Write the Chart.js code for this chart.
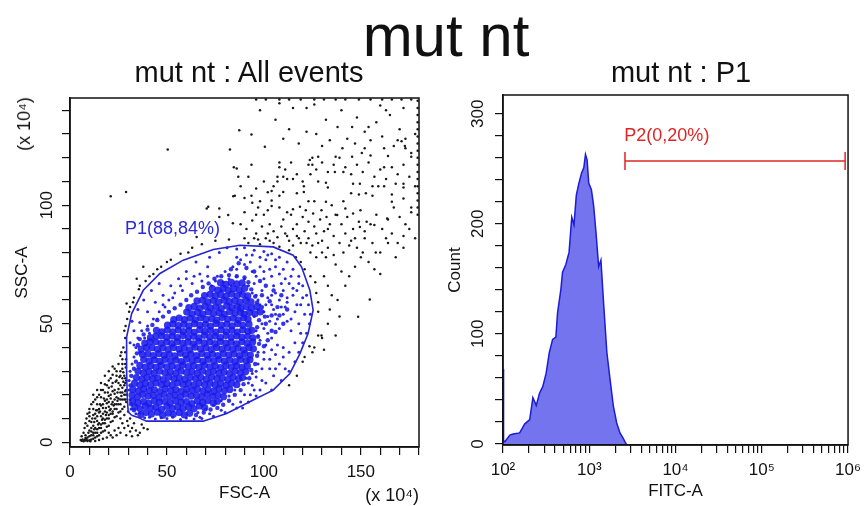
<!DOCTYPE html>
<html>
<head>
<meta charset="utf-8">
<script src="https://cdn.jsdelivr.net/npm/chart.js"></script>
<style>
  body { margin: 0; width: 868px; height: 506px; overflow: hidden; background: #fff; position: relative; }
  canvas { position: absolute; top: 0; }
  .t { position: absolute; font-family: 'Liberation Sans', Arial, sans-serif; color: #111; line-height: 1; text-align: center; white-space: nowrap; z-index: 2; }
</style>
</head>
<body>
<div class="t" style="left:0;width:892px;top:6px;font-size:60px">mut nt</div>
<div class="t" style="left:49px;width:400px;top:58px;font-size:29px">mut nt : All events</div>
<div class="t" style="left:481px;width:400px;top:58px;font-size:29px">mut nt : P1</div>
<div class="t" style="left:24px;top:124px;font-size:18px;transform:translate(-50%,-50%) rotate(-90deg)">(x 10⁴)</div>
<div class="t" style="right:449px;top:486px;font-size:18px;text-align:right">(x 10⁴)</div>
<canvas id="dotplot" width="434" height="506" style="left:0"></canvas>
<canvas id="histo" width="434" height="506" style="left:434px"></canvas>
<script>
// tick positions
const fscTicks = [0, 10, 20, 30, 40, 50, 60, 70, 80, 90, 100, 110, 120, 130, 140, 150, 160, 170, 180]
const sscTicks = [0, 10, 20, 30, 40, 50, 60, 70, 80, 90, 100, 110, 120, 130, 140]
const countTicks = [0, 20, 40, 60, 80, 100, 120, 140, 160, 180, 200, 220, 240, 260, 280, 300]
const fitcTicks = [100, 200, 300, 400, 500, 600, 700, 800, 900,
    1000, 2000, 3000, 4000, 5000, 6000, 7000, 8000, 9000,
    10000, 20000, 30000, 40000, 50000, 60000, 70000, 80000, 90000,
    100000, 200000, 300000, 400000, 500000, 600000, 700000, 800000, 900000, 1000000]
const fitcTickLabels = { 100: '10²', 1000: '10³', 10000: '10⁴', 100000: '10⁵', 1000000: '10⁶' }

// P1 gate outline (FSC-A, SSC-A in x10^4)
const gateP1 = [[31.8, 11.4], [30, 12.8], [29.5, 20], [29.2, 30], [29.2, 44.4], [31.8, 54.3], [37.8, 64.1], [46.4, 71.2],
    [58.4, 76.8], [73.9, 81.3], [87.6, 83.1], [104.8, 82.4], [115.1, 78.9], [119.4, 74], [123.7, 64.1], [125.4, 55.7],
    [122.8, 45.9], [118.6, 37.4], [113.4, 29], [104.8, 22], [94.5, 17.8], [80.8, 12.1], [68.7, 8.9], [39.5, 8.9],
    [34.4, 10.7], [31.8, 11.4]]

// events inside P1, dense part
const blueCore = [
    [36.5, 11.6], [39.2, 12.5], [42, 11.9], [45.1, 12.7], [47.8, 11.4], [50.6, 12.3], [53.3, 11.8], [56.4, 12.6], [59, 11.5], [61.7, 12.2],
    [33.4, 14.9], [36.2, 14.1], [38.9, 15.2], [41.7, 14.4], [44.3, 14.8], [47.2, 13.9], [50, 15.1], [52.8, 14.2], [55.5, 15], [58.3, 14.3], [61.2, 14.9], [64, 14.1], [66.8, 15.3], [69.5, 14.6],
    [32.3, 17.4], [35, 16.6], [37.9, 17.2], [40.6, 16.4], [43.4, 17.5], [46.1, 16.8], [48.9, 17.3], [51.7, 16.5], [54.4, 17.6], [57.3, 16.9], [60, 17.1], [62.8, 16.3], [65.6, 17.4], [68.4, 16.7], [71.1, 17.5], [73.9, 16.6], [76, 17.3],
    [32, 19.9], [34.8, 19.1], [37.5, 20.2], [40.3, 19.4], [43.1, 19.8], [45.9, 19], [48.6, 20.1], [51.4, 19.3], [54.2, 19.9], [57, 19.2], [59.7, 20.3], [62.5, 19.5], [65.3, 19.8], [68.1, 19.1], [70.8, 20.2], [73.6, 19.4], [76.4, 19.9], [79.2, 19.2],
    [32.4, 22.3], [35.2, 21.6], [38, 22.5], [40.8, 21.8], [43.5, 22.1], [46.3, 21.4], [49.1, 22.6], [51.9, 21.7], [54.6, 22.2], [57.4, 21.5], [60.2, 22.4], [63, 21.9], [65.7, 22.5], [68.5, 21.6], [71.3, 22.2], [74.1, 21.5], [76.8, 22.6], [79.6, 21.8], [82.4, 22.3],
    [33.3, 24.9], [36.1, 24.1], [38.9, 24.8], [41.6, 24.2], [44.4, 25], [47.2, 24.3], [50, 24.7], [52.7, 24], [55.5, 25.1], [58.3, 24.4], [61.1, 24.8], [63.8, 24.1], [66.6, 25], [69.4, 24.3], [72.2, 24.9], [74.9, 24.2], [77.7, 24.7], [80.5, 24], [83.3, 24.9], [86, 24.3],
    [34.2, 27.3], [37, 26.6], [39.8, 27.4], [42.5, 26.8], [45.3, 27.1], [48.1, 26.4], [50.9, 27.5], [53.6, 26.7], [56.4, 27.2], [59.2, 26.5], [62, 27.4], [64.7, 26.9], [67.5, 27.3], [70.3, 26.6], [73.1, 27.5], [75.8, 26.8], [78.6, 27.1], [81.4, 26.4], [84.2, 27.4], [87, 26.8], [89, 27.3],
    [35.1, 29.9], [37.9, 29.2], [40.7, 29.8], [43.4, 29.1], [46.2, 30], [49, 29.3], [51.8, 29.7], [54.5, 29], [57.3, 30.1], [60.1, 29.4], [62.9, 29.8], [65.6, 29.1], [68.4, 30], [71.2, 29.3], [74, 29.9], [76.7, 29.2], [79.5, 29.7], [82.3, 29], [85.1, 30], [87.9, 29.4], [90.6, 29.8],
    [36, 32.4], [38.8, 31.7], [41.6, 32.3], [44.3, 31.6], [47.1, 32.5], [49.9, 31.8], [52.7, 32.2], [55.4, 31.5], [58.2, 32.6], [61, 31.9], [63.8, 32.3], [66.5, 31.6], [69.3, 32.5], [72.1, 31.8], [74.9, 32.2], [77.6, 31.5], [80.4, 32.4], [83.2, 31.7], [86, 32.3], [88.8, 31.6], [91.5, 32.2],
    [38, 34.9], [40.8, 34.2], [43.6, 34.8], [46.3, 34.1], [49.1, 35], [51.9, 34.3], [54.7, 34.7], [57.4, 34], [60.2, 35.1], [63, 34.4], [65.8, 34.8], [68.5, 34.1], [71.3, 35], [74.1, 34.3], [76.9, 34.9], [79.6, 34.2], [82.4, 34.7], [85.2, 34], [88, 35], [90.8, 34.4], [92.8, 34.8],
    [37.4, 37], [40.2, 37.3], [43, 36.6], [45.8, 37.4], [48.5, 36.7], [51.3, 37.1], [54.1, 36.4], [56.9, 37.5], [59.6, 36.8], [62.4, 37.2], [65.2, 36.5], [68, 37.4], [70.7, 36.7], [73.5, 37.2], [76.3, 36.5], [79.1, 37.4], [81.8, 36.8], [84.6, 37.2], [87.4, 36.5], [90.2, 37.4], [93, 36.8],
    [36.7, 39.3], [39.5, 40], [42.3, 39.9], [45.1, 39.2], [47.9, 39.8], [50.6, 39.1], [53.4, 40], [56.2, 39.3], [59, 39.7], [61.7, 39], [64.5, 40.1], [67.3, 39.4], [70.1, 39.8], [72.8, 39.1], [75.6, 40], [78.4, 39.3], [81.2, 39.9], [83.9, 39.2], [86.7, 39.7], [89.5, 39], [92.3, 40], [94.6, 39.4],
    [38.6, 41.8], [41.4, 42.5], [44.2, 42.4], [47, 41.7], [49.8, 42.3], [52.5, 41.6], [55.3, 42.5], [58.1, 41.8], [60.9, 42.2], [63.6, 41.5], [66.4, 42.6], [69.2, 41.9], [72, 42.3], [74.7, 41.6], [77.5, 42.5], [80.3, 41.8], [83.1, 42.2], [85.8, 41.5], [88.6, 42.4], [91.4, 41.7], [94.2, 42.3],
    [41.5, 44.1], [44.3, 44.8], [47.1, 44.9], [49.9, 44.2], [52.7, 44.8], [55.4, 44.1], [58.2, 45], [61, 44.3], [63.8, 44.7], [66.5, 44], [69.3, 45.1], [72.1, 44.4], [74.9, 44.8], [77.6, 44.1], [80.4, 45], [83.2, 44.3], [86, 44.9], [88.7, 44.2], [91.5, 44.7], [94.3, 44],
    [44.6, 47.2], [47.4, 46.6], [50.2, 47.3], [53, 46.6], [55.8, 47.4], [58.5, 46.7], [61.3, 47.1], [64.1, 46.4], [66.9, 47.5], [69.6, 46.8], [72.4, 47.2], [75.2, 46.5], [78, 47.4], [80.7, 46.7], [83.5, 47.2], [86.3, 46.5], [89.1, 47.4], [91.8, 46.8], [93.8, 47.2],
    [50.3, 49.4], [53.1, 49.9], [55.9, 49.2], [58.7, 49.8], [61.4, 49.1], [64.2, 50], [67, 49.3], [69.8, 49.7], [72.5, 49], [75.3, 50.1], [78.1, 49.4], [80.9, 49.8], [83.6, 49.1], [86.4, 50], [89.2, 49.3], [92.3, 49.8],
    [53.5, 51.7], [56.3, 52.4], [59.1, 51.7], [61.9, 52.3], [64.6, 51.6], [67.4, 52.5], [70.2, 51.8], [73, 52.2], [75.7, 51.5], [78.5, 52.6], [81.3, 51.9], [84.1, 52.3], [86.8, 51.6], [89.6, 52.5], [91.8, 51.9],
    [60.2, 54.9], [63, 54.2], [65.8, 54.8], [68.5, 54.1], [71.3, 55], [74.1, 54.3], [76.9, 54.7], [79.6, 54], [82.4, 55.1], [85.2, 54.4], [87.9, 54.8], [89.8, 54.1], [92.6, 54.8], [95.4, 54.2], [98.2, 55],
    [61.3, 56.8], [64.1, 57.3], [66.9, 56.6], [69.7, 57.4], [72.4, 56.7], [75.2, 57.1], [78, 56.4], [80.8, 57.5], [83.5, 56.8], [86.3, 57.2], [88, 56.5], [90.8, 57.3], [93.6, 56.6], [96.4, 57.2],
    [65.5, 59.6], [68.3, 59.9], [71.1, 59.2], [73.9, 59.8], [76.6, 59.1], [79.4, 60], [82.2, 59.3], [85, 59.7], [87.8, 59.1], [90.6, 60], [93.4, 59.2],
    [69.4, 61.9], [72.2, 62.4], [75, 61.7], [77.8, 62.3], [80.5, 61.6], [83.3, 62.5], [86.1, 61.8], [88.9, 62.4], [91.7, 61.7],
    [73.4, 64.8], [76.2, 64.2], [79, 64.9], [81.7, 64.1], [84.5, 64.7], [87.3, 64.3], [90.1, 65],
    [77.6, 67.3], [80.4, 66.6], [83.2, 67.4], [86, 66.8], [88.8, 67.2]
]

// events inside P1, medium density ring around the core
const blueMid = [
    [34.5, 37.5], [35, 41], [36, 43.5], [38, 45.5], [40, 47.5], [42.5, 49.5], [45, 51.5], [48, 53], [51, 55], [54, 56.5],
    [57, 58], [60, 60], [62.5, 62], [65.5, 63.5], [68.5, 65.5], [71.5, 67], [74.5, 69], [78, 70], [82, 70.5], [86, 70],
    [90, 69.5], [92, 67.5], [93.5, 64.5], [95.5, 61.5], [96.5, 59], [99, 57], [100.5, 53], [97.5, 51.5], [96.5, 48.5],
    [97, 44.5], [97.5, 41.5], [96.5, 36.5], [95.5, 33], [93.5, 30.5], [92.5, 27], [89.5, 24.5], [88, 22], [85, 20], [82, 17.5],
    [79, 15.8], [76, 14.5], [72.5, 13.8], [69, 12.5], [65, 11.5],
    [101, 50], [104, 53.5], [107, 57], [103, 59.5], [99, 62], [101, 66], [105, 64], [109, 62], [112, 56], [110, 50], [106, 46.5],
    [102, 43], [100, 40.5], [104, 47], [108, 53.5], [98, 68], [95, 72], [91, 73.5], [87, 75.5], [83, 73],
    [33, 13.5], [31.5, 16], [31.2, 24], [31.6, 28], [33, 31], [34, 34]
]

// events inside P1, sparse edge of the cloud
const blueHalo = [
    [31, 42], [33, 47], [32, 51], [35, 56], [38, 60], [42, 64], [46, 67], [36, 50.5], [40, 55], [44, 59], [48, 62], [52, 66],
    [56, 69], [60, 72], [41, 46], [38.5, 44], [45, 52], [49, 57], [53, 61], [58, 64], [63, 67], [67, 71], [71, 74], [65, 76],
    [72, 78], [77, 80], [81, 82], [86, 81.5], [90, 82], [95, 81], [100, 80.5], [104, 79.5], [108, 78], [112, 76], [115, 73],
    [118, 70], [120, 66], [122, 62], [123, 58], [124, 54], [123.5, 50], [122, 46], [120, 42], [118, 38], [116, 34], [113, 30],
    [109, 26], [104, 22], [96, 19.5], [92, 17], [86, 14.5], [80, 12.5], [74, 11], [68, 10], [64, 9.8], [57, 9.6], [50, 10],
    [44, 9.8], [38.5, 10.3],
    [96, 47], [99, 50], [102, 53], [97, 56], [101, 58], [105, 56], [108, 60], [104, 62], [99, 64], [95, 67], [100, 69], [105, 66],
    [110, 64], [113, 67], [108, 71], [103, 73], [98, 74], [93, 76], [88, 77], [84, 74], [80, 72], [76, 70], [73, 66], [78, 64],
    [83, 66], [88, 63], [92, 60], [96, 62], [90, 69], [86, 70], [94, 72], [112, 59], [115, 62], [110, 54], [106, 50], [102, 46],
    [98, 43], [104, 44], [108, 48], [112, 51], [116, 55], [114, 47], [118, 50], [119, 58], [117, 64], [111, 69], [106, 74],
    [101, 77], [91, 79], [86, 78],
    [97, 38], [100, 35], [103, 31], [96, 30], [99, 26], [94, 24], [90, 20], [88, 17], [106, 37], [110, 40], [108, 33], [101, 41],
    [95, 22], [92, 25], [105, 28],
    [34, 40], [36, 38], [33, 36], [32, 33], [31, 30], [30.5, 26], [30.5, 22], [31, 18], [31.5, 14], [34, 12], [66, 12.5],
    [70, 14], [74, 15.5], [78, 17.5], [82, 19.5], [85, 22],
    [97, 45], [100, 48], [103, 51], [106, 54], [109, 57], [112, 61], [115, 65], [118, 67], [114, 70], [110, 73], [106, 77],
    [102, 79], [98, 78], [94, 79], [90, 75], [86, 73], [82, 69], [79, 67.5], [75, 68], [71, 70], [68, 68], [64, 70], [60, 69],
    [57, 66], [54, 63], [51, 60], [48, 58], [46, 55], [43, 52], [40, 49], [37, 47], [35, 44], [33, 41], [95, 53], [98, 58],
    [102, 61], [106, 63], [109, 67], [104, 70], [100, 72], [96, 70], [92, 66], [94, 63], [97, 60], [100, 55], [104, 58],
    [107, 52], [111, 57], [114, 52], [117, 58], [120, 61], [121, 54], [119, 46], [116, 42], [113, 38], [110, 36], [107, 41],
    [104, 39], [100, 38], [97, 33], [94, 29], [91, 27], [96, 27.5], [99, 31], [103, 35], [106, 31], [111, 31], [98, 22],
    [101, 25], [93, 20], [89, 14.5], [84, 16], [78, 13.5], [72, 12], [67, 10.5], [60, 10.2], [53, 10.5], [47, 10.3],
    [41, 10.6], [36, 12.2]
]

// events outside P1
const blackEvents = [
    // debris
    [6, 0.6], [7, 0.4], [8, 0.7], [9, 0.5], [10, 0.8], [6.5, 1.2], [8.5, 1.3], [7.5, 0.9], [5.5, 0.9], [10.5, 0.4],
    [9, 2], [11, 3], [12, 1.5], [10, 5], [13, 4], [14, 2.5], [15, 6], [12, 7], [16, 4], [17, 8], [14, 9], [11, 8.5], [18, 5],
    [19, 10], [16, 11], [13, 12], [20, 7], [21, 12], [18, 13], [15, 14], [22, 9], [23, 14], [20, 15], [17, 16], [24, 11],
    [25, 16], [22, 17], [19, 18], [26, 13], [27, 18], [24, 19], [21, 20], [28, 15], [29, 20], [26, 21], [23, 22], [28, 24],
    [25, 25], [27, 27], [24, 28], [29, 26], [22, 25], [20, 23], [18, 21], [16, 19], [14, 16], [12, 14], [10, 11], [13, 10],
    [15, 12.5], [17, 14.5], [19, 16.5], [21, 18.5], [23, 20.5], [25, 22.5], [27, 23], [29, 17], [30, 13], [31, 10], [29.5, 9],
    [27, 8], [25, 6], [23, 5], [21, 3], [19, 2], [17, 1.5], [15, 1], [13, 0.5], [11, 1.2], [26, 10], [28, 11.5], [28.7, 18],
    [28.8, 22], [28, 28], [27, 31], [25, 33], [23, 31], [28.5, 33], [26, 30], [24, 26], [21, 27], [19, 24], [17, 22], [15, 20],
    [13, 18], [16, 25], [18, 28], [20, 30], [22, 32], [14, 22], [11, 16], [9, 12], [8, 8], [7, 4], [10, 14], [12, 20], [20, 4],
    [22, 2], [24, 3], [26, 4], [28, 6], [30, 7], [32, 6], [34, 5], [36, 4], [38, 6], [40, 5.5], [35, 3], [32, 2.5], [29, 3],
    [33, 8], [31, 4.5], [37, 7.5], [12.5, 5.5], [14.5, 7.5], [16.5, 9.5], [18.5, 11.5], [20.5, 13.5], [22.5, 15.5], [24.5, 17.5],
    [26.5, 19.5], [28.5, 21.5], [11.5, 10], [13.5, 13.5], [15.5, 16], [17.5, 18.5], [19.5, 21], [21.5, 23.5], [23.5, 25.5],
    [25.5, 27.5], [27.5, 29.5], [28.8, 31.5], [18, 8], [20, 10], [22, 12], [24, 14], [26, 16], [28, 18], [16, 6], [14, 4], [12, 3],
    [27, 35], [28.5, 38], [26, 36.5], [28.9, 35],
    [8, 3], [9.5, 4], [11, 6], [12.5, 8.5], [14, 11], [15.5, 13], [17, 12], [18.5, 14.5], [20, 17], [21.5, 16], [23, 18],
    [24.5, 21], [26, 24], [27.5, 25.5], [28.5, 27], [22, 21.5], [20, 19.5], [18, 17.5], [16, 15.5], [14, 13.5], [12, 11.5],
    [10, 9], [9, 7], [11, 4.5], [13, 6], [15, 8], [17, 10], [19, 12.5], [21, 14], [23, 16], [25, 18.5], [27, 21], [28.5, 25],
    [26, 28], [24, 30], [22, 28.5], [20, 26], [18, 24.5], [16, 22], [14, 19], [12, 17], [10, 12.5], [8.5, 10], [7.5, 6],
    [6, 2.5], [8, 1.8], [10, 2.5], [12, 4], [14, 5.5], [16, 7.5], [18, 9.5], [20, 11.5], [22, 13], [24, 16], [26, 18],
    [28, 20], [27, 14], [25, 12.5], [23, 10.5], [21, 8.5], [19, 6.5], [17, 4.5], [15, 3], [13, 2],
    // around the gate
    [27.5, 40], [28.5, 44], [28, 47], [29.5, 52], [31, 57], [33, 61], [35.5, 64.5], [39, 68], [43, 71], [47, 74], [52, 77],
    [57, 79.5], [63, 82], [27, 33], [26.5, 38], [28.7, 49], [30.5, 55], [32.5, 59], [36, 66], [41, 70], [45, 73], [50, 76],
    [61, 80], [68, 83.5], [75, 85], [82, 85.5], [90, 86], [97, 85.5], [103, 85], [29.2, 58.5], [34.4, 69], [37.8, 74],
    [128, 55], [128, 45], [129.7, 45], [126, 40], [148.6, 52.9], [154.6, 60.2], [160, 71], [157.7, 80], [149.5, 90.8],
    [127, 63], [128, 59], [126.5, 67.5], [124, 70], [121, 73], [119, 76], [116.5, 78], [113, 81], [131, 70], [133, 66],
    [135, 62], [132, 78], [137, 75], [140, 72], [134, 56], [138, 60], [142, 66], [144, 70], [147, 74], [150, 78], [139, 53],
    [133, 50], [130, 44], [125, 38], [120, 34], [117, 28], [113, 24], [123.5, 40.5], [121, 36], [137, 45], [131, 39],
    // upper right
    [21, 103.8], [28.9, 105.6], [50.4, 123.5], [87.3, 131.6], [82.5, 123.5], [100.5, 124.6], [71.3, 99.3], [84.2, 103.8],
    [86, 115.5], [65.3, 86.6], [70.5, 98.6], [77, 95], [84, 92.4],
    [108, 143], [126, 142.5], [122, 141], [163, 140], [122, 131], [145.5, 133], [154, 133], [93.6, 129.8], [134, 127.4],
    [155, 127.4], [169, 127.4], [171, 127], [172.7, 125], [140.5, 124], [147, 126], [152, 124], [150.5, 122], [162, 124],
    [173, 124], [164, 120.7], [176, 120.4], [125, 120], [128, 120.4], [123.7, 119], [137, 120.4], [145.5, 120.4], [84.5, 116],
    [93.6, 117], [108, 118], [108, 116], [123, 117], [125, 117], [136.6, 114], [141, 114], [162, 116], [168, 109], [172, 109],
    [172, 107.5], [86.8, 112], [110, 112], [112, 111], [115, 111], [107, 110], [105, 108], [128, 110], [132, 109.5],
    [133, 107.5], [146, 109], [149.5, 109], [156, 108], [159, 108], [162, 108], [120.6, 108], [120.6, 105.6], [110, 105.6],
    [117, 105], [102, 105.4], [85, 104], [93.6, 104], [98, 101.7], [104, 102], [108, 104], [123, 101.7], [126, 101.7],
    [132, 101.4], [135, 100], [141, 101.7], [145, 105], [149, 104.5], [152.6, 105], [156, 104], [166, 104.5], [172, 102.8],
    [166, 101.4], [176, 99], [77, 98.6], [81.6, 95.8], [90, 97], [96, 96], [102, 97.9], [104, 99.7], [108, 99], [112, 97],
    [115, 98.3], [118.6, 99.3], [121.6, 97.9], [125.4, 96.5], [129.7, 97.9], [132.3, 95], [137.8, 95.8], [142, 98.6],
    [146, 96.5], [149.8, 97.9], [153, 93], [157, 91.6], [163.6, 94.4],
    [88, 92], [91, 90], [94, 93.5], [96, 88], [99, 91], [101, 86], [103, 92], [105, 89], [107, 86.5], [109, 91], [111, 88],
    [113, 85], [115, 90], [117, 87], [119, 84], [121, 89], [123, 86], [125, 83], [127, 88], [130, 85], [133, 90], [136, 87],
    [139, 84], [142, 88], [145, 85], [148, 82], [152, 86], [156, 84], [160, 80], [164, 84], [168, 78], [172, 82],
    [92, 84], [95, 86], [98, 83.5], [102, 88], [105, 84], [108, 82.5], [110, 94], [114, 96], [117, 92], [120, 95], [123, 93],
    [126, 91], [129, 94], [131, 89], [134, 92], [137, 96], [140, 92], [143, 95], [146, 90], [149, 93], [152, 89], [155, 92],
    [158, 96], [161, 90], [164, 94], [167, 99], [170, 95], [173, 92], [176, 97], [141, 80], [144, 83], [147, 86], [151, 80],
    [154, 76], [157, 73], [163, 86], [166, 88], [169, 84], [172, 87], [175, 90], [178, 86], [136, 79], [133, 82],
    [130, 80], [127, 78], [124, 80], [128, 84], [122, 84], [118, 86], [115, 83], [112, 87], [100, 96], [97, 99], [94, 101],
    [90, 103], [88, 108], [92, 112], [96, 107], [100, 110], [104, 106], [107, 112], [111, 115], [114, 118], [117, 113],
    [120, 110], [124, 113], [127, 115], [130, 118], [133, 114], [136, 117], [139, 120], [142, 116], [145, 113], [148, 117],
    [151, 114], [154, 118], [157, 112], [160, 115], [163, 111], [166, 116], [169, 113], [172, 117], [175, 112], [178, 108],
    [176, 122], [173, 128], [170, 132], [167, 125], [161, 129], [158, 135], [152, 131], [148, 137], [143, 128], [138, 133],
    [132, 136], [127, 130], [118, 126], [113, 132], [106, 136], [98, 140], [110, 128], [130, 125], [155, 121], [165, 138],
    [172, 141], [160, 142], [115, 141], [140, 140], [178, 130],
    // saturated events on the right and top edges
    [179.3, 96], [179.3, 99], [179.3, 102], [179.3, 105], [179.3, 108], [179.3, 111], [179.3, 114], [179.3, 117], [179.3, 120],
    [179.3, 123], [179.3, 126], [179.3, 129], [179.3, 132], [179.3, 135], [179.3, 138], [179.3, 141], [179.3, 144],
    [96, 144.6], [101, 144.6], [108, 144.6], [113, 144.6], [119, 144.6], [126, 144.6], [131, 144.6], [137, 144.6],
    [142, 144.6], [149, 144.6], [155, 144.6], [161, 144.6], [166, 144.6], [171, 144.6], [176, 144.6]
]

// FITC-A histogram of P1
const fitcValues = [100, 101.5, 105, 120, 131, 156, 178, 204, 222, 243, 265, 289, 316, 344, 376, 410, 429, 468, 490, 535,
    583, 627, 665, 708, 759, 813, 865, 904, 944, 986, 1059, 1125, 1197, 1285, 1365, 1466, 1600, 1746, 1905, 2080,
    2270, 2477, 2630, 2700]
const fitcCounts = [68, 3, 2, 8, 9, 10, 18, 22, 42, 35, 46, 52, 64, 83, 95, 97, 119, 140, 156, 163,
    174, 206, 199, 226, 237, 246, 251, 263, 258, 237, 231, 216, 192, 161, 167, 128, 83, 58, 34, 19,
    10, 5, 1, 0]

// P2 marker
const gateP2 = [[2595, 257], [925000, 257]]

const family = "'Liberation Sans', Arial, sans-serif"

const frame = {
    id: 'frame',
    afterDraw(chart) {
        const { ctx, chartArea: a } = chart
        ctx.save()
        ctx.strokeStyle = '#111'
        ctx.lineWidth = 1.5
        ctx.strokeRect(a.left, a.top, a.right - a.left, a.bottom - a.top)
        ctx.restore()
    }
}

const gateLabel = {
    id: 'gateLabel',
    afterDatasetsDraw(chart, args, opts) {
        const { ctx, scales } = chart
        ctx.save()
        ctx.font = '18px ' + family
        ctx.fillStyle = opts.color
        ctx.textBaseline = 'alphabetic'
        ctx.fillText(opts.text, scales.x.getPixelForValue(opts.at[0]), scales.y.getPixelForValue(opts.at[1]))
        ctx.restore()
    }
}

function axis(ticks, size, label, labelPad, tickPad, extra) {
    return Object.assign({
        afterBuildTicks: (s) => { s.ticks = ticks.map(v => ({ value: v })) },
        afterFit: (s) => { if (s.isHorizontal()) s.height = size; else s.width = size },
        grid: { drawOnChartArea: false, color: '#111', tickLength: 8, lineWidth: 1.2 },
        border: { color: '#111', width: 1.5 },
        ticks: { color: '#111', font: { size: 17, family: family }, padding: tickPad, autoSkip: false },
        title: { display: true, text: label, color: '#111', font: { size: 17, family: family }, padding: labelPad }
    }, extra)
}

function mergeTicks(a, t) {
    a.ticks = Object.assign(a.ticks, t)
    return a
}

const xLeft = mergeTicks(axis(fscTicks, 59, 'FSC-A', { top: 0, bottom: 2 }, 7, { type: 'linear', min: 0, max: 180 }),
    { maxRotation: 0, callback: v => v % 50 === 0 ? String(v) : '' })
const yLeft = mergeTicks(axis(sscTicks, 70, 'SSC-A', { top: 12, bottom: 0 }, 1, { type: 'linear', min: -2, max: 145.2 }),
    { minRotation: 90, maxRotation: 90, crossAlign: 'center', callback: v => v % 50 === 0 ? String(v) : '' })

new Chart(document.getElementById('dotplot'), {
    type: 'scatter',
    data: {
        datasets: [{
            data: gateP1.map(p => ({ x: p[0], y: p[1] })),
            showLine: true, borderColor: '#2525d2', borderWidth: 1.6, pointRadius: 0, fill: false
        }, {
            data: blueCore.map(p => ({ x: p[0], y: p[1] })),
            pointRadius: 3.6, pointBorderWidth: 0, backgroundColor: 'rgba(26,26,236,0.88)'
        }, {
            data: blueMid.map(p => ({ x: p[0], y: p[1] })),
            pointRadius: 2.2, pointBorderWidth: 0, backgroundColor: 'rgba(30,30,232,0.9)'
        }, {
            data: blueHalo.map(p => ({ x: p[0], y: p[1] })),
            pointRadius: 1.5, pointBorderWidth: 0, backgroundColor: '#2a2ae0'
        }, {
            data: blackEvents.map(p => ({ x: p[0], y: p[1] })),
            pointRadius: 1.25, pointBorderWidth: 0, backgroundColor: '#1a1a1a'
        }]
    },
    options: {
        responsive: false,
        devicePixelRatio: 1,
        animation: false,
        layout: { padding: { top: 98, right: 15, bottom: 0, left: 0 } },
        plugins: {
            legend: { display: false },
            tooltip: { enabled: false },
            gateLabel: { text: 'P1(88,84%)', color: '#2a2ad8', at: [28.4, 87.9] }
        },
        scales: { x: xLeft, y: yLeft }
    },
    plugins: [frame, gateLabel]
})

const xRight = mergeTicks(axis(fitcTicks, 61, 'FITC-A', { top: 0, bottom: 4 }, 7, { type: 'logarithmic', min: 100, max: 1000000 }),
    { maxRotation: 0, callback: v => fitcTickLabels[v] || '' })
const yRight = mergeTicks(axis(countTicks, 69, 'Count', { top: 11, bottom: 0 }, 3, { type: 'linear', min: -1, max: 317 }),
    { minRotation: 90, maxRotation: 90, crossAlign: 'center', callback: v => v % 100 === 0 ? String(v) : '' })

new Chart(document.getElementById('histo'), {
    type: 'scatter',
    data: {
        datasets: [{
            data: gateP2.map(p => ({ x: p[0], y: p[1] })),
            showLine: true, borderColor: '#e02424', borderWidth: 1.5,
            pointStyle: 'line', rotation: 90, pointRadius: 9, pointBorderWidth: 1.5, pointBorderColor: '#e02424'
        }, {
            data: fitcValues.map((v, i) => ({ x: v, y: fitcCounts[i] })),
            showLine: true, fill: 'origin', pointRadius: 0,
            borderColor: '#1c1cd6', borderWidth: 1.5, backgroundColor: '#7474ee'
        }]
    },
    options: {
        responsive: false,
        devicePixelRatio: 1,
        animation: false,
        layout: { padding: { top: 95, right: 15, bottom: 0, left: 0 } },
        plugins: {
            legend: { display: false },
            tooltip: { enabled: false },
            gateLabel: { text: 'P2(0,20%)', color: '#e02424', at: [2550, 275] }
        },
        scales: { x: xRight, y: yRight }
    },
    plugins: [frame, gateLabel]
})
</script>
</body>
</html>
